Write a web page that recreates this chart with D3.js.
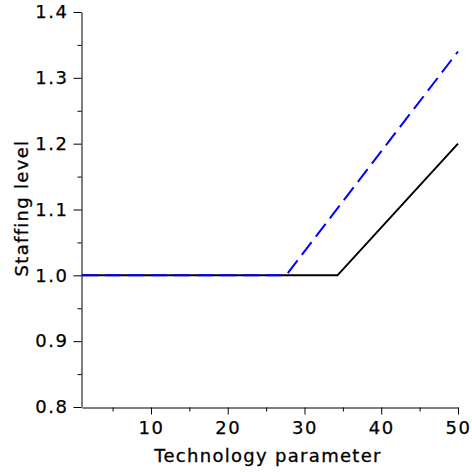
<!DOCTYPE html>
<html><head><meta charset="utf-8">
<script src="https://cdn.jsdelivr.net/npm/d3@7"></script>
<style>
html,body{margin:0;padding:0;background:#fff;}
text{font-family:"DejaVu Sans",sans-serif;fill:#000;}
</style></head>
<body>
<svg id="c" width="472" height="473"></svg>
<script>
// Data
const techBlack = [1, 34.3, 50];
const staffBlack = [1.0, 1.0, 1.2];
const techBlue = [1, 27.6, 50];
const staffBlue = [1.0, 1.0, 1.34];
const xTicks = [10, 20, 30, 40, 50];
const xMinor = [5, 15, 25, 35, 45];
const yTicks = [0.8, 0.9, 1.0, 1.1, 1.2, 1.3, 1.4];
const yMinor = [0.85, 0.95, 1.05, 1.15, 1.25, 1.35];

const svg = d3.select("#c");
const x = d3.scaleLinear().domain([1, 50]).range([81.9, 458]);
const y = d3.scaleLinear().domain([0.8, 1.4]).range([407, 12]);

// axes
const xg = svg.append("g").attr("transform", "translate(0,407.5)");
xg.call(d3.axisBottom(x).tickValues(xTicks).tickSize(7).tickSizeOuter(0).tickPadding(7).tickFormat(d3.format("d")));
const xm = svg.append("g").attr("transform", "translate(0,407.5)");
xm.call(d3.axisBottom(x).tickValues(xMinor).tickSize(4).tickSizeOuter(0).tickFormat(""));
xm.select(".domain").remove();

const yg = svg.append("g").attr("transform", "translate(81.5,0)");
yg.call(d3.axisLeft(y).tickValues(yTicks).tickSize(8).tickSizeOuter(0).tickPadding(5).tickFormat(d3.format(".1f")));
const ym = svg.append("g").attr("transform", "translate(81.5,0)");
ym.call(d3.axisLeft(y).tickValues(yMinor).tickSize(4).tickSizeOuter(0).tickFormat(""));
ym.select(".domain").remove();

svg.selectAll(".tick text").attr("font-size", 18).attr("font-family", "DejaVu Sans")
  .style("letter-spacing", "1.5px").attr("stroke", "#000").attr("stroke-width", 0.25);
svg.selectAll(".domain, .tick line").attr("stroke", "#000").attr("stroke-width", 1);

// axis titles
svg.append("text").attr("x", 268).attr("y", 462).attr("text-anchor", "middle")
  .attr("font-size", 18).style("letter-spacing", "1.3px").attr("stroke", "#000").attr("stroke-width", 0.3)
  .text("Technology parameter");
svg.append("text").attr("transform", "translate(28,208) rotate(-90)").attr("text-anchor", "middle")
  .attr("font-size", 18).style("letter-spacing", "1.3px").attr("stroke", "#000").attr("stroke-width", 0.3)
  .text("Staffing level");

// lines
const line = d3.line().x(d => x(d[0])).y(d => y(d[1]));
svg.append("path").datum(techBlack.map((t, i) => [t, staffBlack[i]]))
  .attr("d", line).attr("fill", "none").attr("stroke", "#000").attr("stroke-width", 2);
svg.append("path").datum(techBlue.map((t, i) => [t, staffBlue[i]]))
  .attr("d", line).attr("fill", "none").attr("stroke", "#0000ff").attr("stroke-width", 2)
  .attr("stroke-dasharray", "16,7");
</script>
</body></html>
